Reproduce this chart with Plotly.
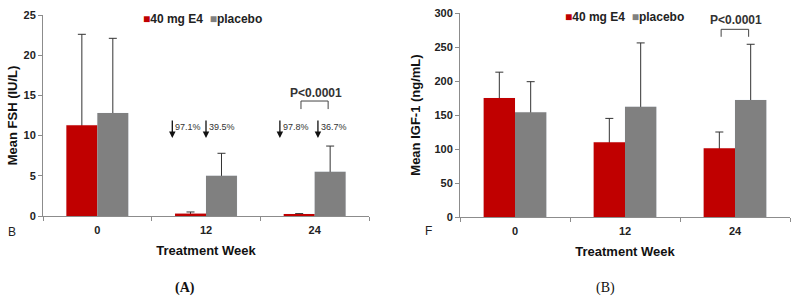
import plotly.graph_objects as go

# ---------------- data ----------------
weeks = ["0", "12", "24"]

fsh_e4 = [11.3, 0.3, 0.25]
fsh_e4_sd = [11.3, 0.2, 0.05]
fsh_pl = [12.8, 5.0, 5.5]
fsh_pl_sd = [9.3, 2.8, 3.2]

igf_e4 = [175, 110, 101]
igf_e4_sd = [38, 35, 24]
igf_pl = [154, 162, 172]
igf_pl_sd = [45, 94, 82]

fsh_pct = ["97.1%", "39.5%", "97.8%", "36.7%"]
series_names = ["40 mg E4", "placebo"]

# ---------------- style ----------------
W, H = 799, 298
RED = "#C00000"
GRAY = "#808080"
FONT = "Liberation Sans, Arial, sans-serif"
AX = "#8c8c8c"


def px_x(p):
    return p / W


def px_y(p):
    return 1 - p / H


fig = go.Figure()


def err(mean, sd):
    # upper error bar; the lower end sits at the axis and is hidden under the bar
    return dict(type="data", array=sd, arrayminus=mean, symmetric=False,
                color="#333333", thickness=1, width=4)


panels = [
    ("x", "y", fsh_e4, fsh_e4_sd, fsh_pl, fsh_pl_sd),
    ("x2", "y2", igf_e4, igf_e4_sd, igf_pl, igf_pl_sd),
]
for xa, ya, e4, e4sd, pl, plsd in panels:
    # error-bar carriers (drawn first, same slot as the visible bars)
    for vals, sd, grp, nm in [(e4, e4sd, "e4", series_names[0]), (pl, plsd, "pl", series_names[1])]:
        fig.add_trace(go.Bar(x=weeks, y=vals, name=nm, offsetgroup=grp, showlegend=False,
                             marker=dict(color="rgba(0,0,0,0)"), error_y=err(vals, sd),
                             hoverinfo="skip", xaxis=xa, yaxis=ya))
    # visible bars
    for vals, grp, col, nm in [(e4, "e4", RED, series_names[0]), (pl, "pl", GRAY, series_names[1])]:
        fig.add_trace(go.Bar(x=weeks, y=vals, name=nm, offsetgroup=grp, showlegend=False,
                             marker=dict(color=col, line=dict(width=0)), xaxis=xa, yaxis=ya))

tickfont = dict(family=FONT, size=11, color="#222222", weight="bold")
titlefont = dict(family=FONT, size=13, color="#111111", weight="bold")

xax = dict(type="category", showline=True, linecolor=AX, linewidth=1,
           ticks="outside", tickson="boundaries", ticklen=4, tickcolor=AX,
           tickfont=tickfont, showgrid=False, zeroline=False, ticklabelstandoff=4,
           title=dict(text="Treatment Week", font=titlefont, standoff=10))
yax = dict(showline=True, linecolor=AX, linewidth=1, ticks="outside", ticklen=4,
           tickcolor=AX, tickfont=tickfont, showgrid=False, zeroline=False)

fig.update_layout(
    width=W, height=H,
    margin=dict(l=0, r=0, t=0, b=0, autoexpand=False),
    paper_bgcolor="white", plot_bgcolor="white",
    barmode="group", bargap=0.43, bargroupgap=0,
    showlegend=False,
    font=dict(family=FONT, size=11, color="#222222"),
    xaxis=dict(xax, domain=[px_x(43), px_x(369)], anchor="y"),
    yaxis=dict(yax, domain=[px_y(216), px_y(15)], range=[0, 25], dtick=5, anchor="x",
               title=dict(text="Mean FSH (IU/L)", font=titlefont, standoff=2)),
    xaxis2=dict(xax, domain=[px_x(460), px_x(790)], anchor="y2"),
    yaxis2=dict(yax, domain=[px_y(217), px_y(13)], range=[0, 300], dtick=50, anchor="x2",
                title=dict(text="Mean IGF-1 (ng/mL)", font=titlefont, standoff=10)),
)

# ---------------- legend keys (text) ----------------
def legend_text():
    return (f"<span style='color:{RED}'>■</span><b>{series_names[0]}</b>"
            f"  <span style='color:{GRAY}'>■</span><b>{series_names[1]}</b>")


for lx, ly in [(141, 19), (563, 17)]:
    fig.add_annotation(x=px_x(lx), y=px_y(ly), xref="paper", yref="paper", text=legend_text(),
                       showarrow=False, xanchor="left", yanchor="middle",
                       font=dict(family=FONT, size=12, color="#222222"))

# ---------------- annotations: percent reductions (panel A) ----------------
arrow_x = [1 - 0.31, 1.0, 2 - 0.32, 2 + 0.03]
for xv, txt in zip(arrow_x, fsh_pct):
    fig.add_annotation(x=xv, y=9.7, xref="x", yref="y", ax=0, ay=-19, axref="pixel",
                       showarrow=True, arrowhead=2, arrowsize=1, arrowwidth=1.3,
                       arrowcolor="#111111", text="")
    fig.add_annotation(x=xv, y=11.1, xref="x", yref="y", text=txt, showarrow=False,
                       xanchor="left", xshift=1,
                       font=dict(family=FONT, size=9, color="#333333"))

# ---------------- significance brackets ----------------
def bracket(xref, yref, xc, ytop, ybot, ytext, label):
    x0, x1 = xc - 0.126, xc + 0.124
    fig.add_shape(type="path", xref=xref, yref=yref,
                  path=f"M {x0} {ybot} L {x0} {ytop} L {x1} {ytop} L {x1} {ybot}",
                  line=dict(color="#444444", width=1))
    fig.add_annotation(x=xc + 0.01, y=ytext, xref=xref, yref=yref, text=f"<b>{label}</b>",
                       showarrow=False, font=dict(family=FONT, size=12, color="#333333"))


bracket("x", "y", 2, 14.3, 13.3, 15.3, "P&lt;0.0001")
bracket("x2", "y2", 2, 276, 265, 290, "P&lt;0.0001")

# ---------------- panel letters & captions ----------------
def label(xp, yp, text, font):
    fig.add_annotation(x=px_x(xp), y=px_y(yp), xref="paper", yref="paper", text=text,
                       showarrow=False, xanchor="center", yanchor="middle", font=font)


label(12, 232, "B", dict(family=FONT, size=12, color="#222222"))
label(429, 231, "F", dict(family=FONT, size=12, color="#222222"))
label(185, 288, "<b>(A)</b>", dict(family="Liberation Serif, serif", size=14, color="#111111"))
label(605, 288, "(B)", dict(family="Liberation Serif, serif", size=14, color="#111111"))

fig.write_html("out.html", config={"displayModeBar": False},
               post_script="document.body.style.margin='0';document.body.style.overflow='hidden';")
